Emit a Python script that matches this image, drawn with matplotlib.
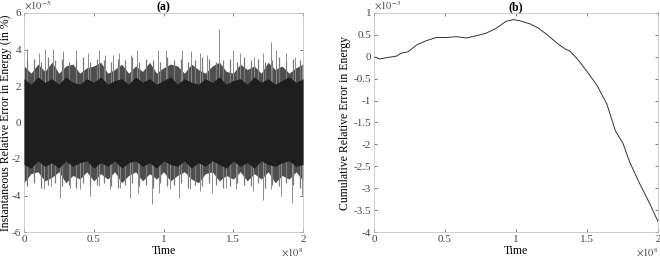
import numpy as np
import matplotlib
matplotlib.use("Agg")
import matplotlib.pyplot as plt

plt.rcParams['font.family'] = ['Liberation Serif', 'DejaVu Serif']
plt.rcParams['mathtext.fontset'] = 'stix'
plt.rcParams['axes.unicode_minus'] = False

# ---- panel (a): instantaneous error, values in units of 1e-5, time in 1e8 ----
# envelope of the dense band, sampled every 0.05e8
band_t = [0.00, 0.05, 0.10, 0.15, 0.20, 0.25, 0.30, 0.35, 0.40, 0.45,
          0.50, 0.55, 0.60, 0.65, 0.70, 0.75, 0.80, 0.85, 0.90, 0.95,
          1.00, 1.05, 1.10, 1.15, 1.20, 1.25, 1.30, 1.35, 1.40, 1.45,
          1.50, 1.55, 1.60, 1.65, 1.70, 1.75, 1.80, 1.85, 1.90, 1.95, 2.00]
core_hi = [2.4, 2.1, 2.5, 2.2, 2.4, 2.1, 2.5, 2.2, 2.1, 2.4,
           2.2, 2.5, 2.1, 2.3, 2.4, 2.1, 2.5, 2.2, 2.4, 2.1,
           2.3, 2.5, 2.1, 2.4, 2.2, 2.1, 2.4, 2.2, 2.5, 2.1,
           2.3, 2.4, 2.1, 2.5, 2.2, 2.4, 2.1, 2.3, 2.5, 2.2, 2.4]
core_lo = [-2.3, -2.5, -2.1, -2.4, -2.2, -2.5, -2.1, -2.4, -2.2, -2.1,
           -2.5, -2.2, -2.4, -2.1, -2.5, -2.2, -2.1, -2.4, -2.2, -2.5,
           -2.1, -2.3, -2.4, -2.1, -2.5, -2.2, -2.4, -2.1, -2.3, -2.5,
           -2.1, -2.4, -2.2, -2.5, -2.1, -2.3, -2.4, -2.2, -2.1, -2.4, -2.3]
fringe_hi = [3.1, 2.7, 3.2, 2.8, 3.3, 2.7, 3.1, 3.2, 2.7, 3.0,
             3.1, 3.3, 2.7, 2.9, 3.2, 2.7, 3.1, 2.8, 3.3, 2.7,
             3.0, 3.2, 3.1, 2.7, 3.2, 2.9, 2.7, 3.1, 3.3, 2.8,
             2.7, 3.2, 2.9, 3.1, 2.7, 3.3, 2.9, 3.1, 2.7, 3.0, 3.2]
fringe_lo = [-3.3, -2.8, -2.7, -3.2, -3.0, -2.7, -3.3, -2.9, -3.1, -2.7,
             -3.2, -2.8, -3.1, -2.7, -3.3, -2.9, -2.7, -3.2, -2.8, -3.1,
             -2.7, -3.2, -2.9, -2.7, -3.1, -3.3, -2.8, -2.7, -3.2, -2.9,
             -3.1, -2.7, -3.2, -2.8, -3.1, -2.7, -3.3, -2.9, -3.1, -2.7, -3.2]
# medium spikes sticking out of the fringe, between the envelope samples
mid_t = [0.025, 0.075, 0.125, 0.175, 0.225, 0.275, 0.325, 0.375, 0.425, 0.475,
         0.525, 0.575, 0.625, 0.675, 0.725, 0.775, 0.825, 0.875, 0.925, 0.975,
         1.025, 1.075, 1.125, 1.175, 1.225, 1.275, 1.325, 1.375, 1.425, 1.475,
         1.525, 1.575, 1.625, 1.675, 1.725, 1.775, 1.825, 1.875, 1.925, 1.975]
mid_up = [3.4, 3.5, 3.3, 3.6, 3.4, 3.5, 3.3, 3.4, 3.6, 3.3,
          3.5, 3.4, 3.3, 3.5, 3.4, 3.6, 3.3, 3.5, 3.4, 3.3,
          3.6, 3.4, 3.5, 3.3, 3.4, 3.6, 3.5, 3.3, 3.4, 3.5,
          3.3, 3.6, 3.4, 3.5, 3.3, 3.4, 3.6, 3.3, 3.5, 3.4]
mid_dn = [-3.5, -3.3, -3.6, -3.4, -3.3, -3.5, -3.4, -3.6, -3.3, -3.5,
          -3.4, -3.3, -3.5, -3.6, -3.4, -3.3, -3.5, -3.4, -3.6, -3.3,
          -3.5, -3.4, -3.3, -3.6, -3.4, -3.5, -3.3, -3.4, -3.6, -3.5,
          -3.3, -3.4, -3.5, -3.3, -3.6, -3.4, -3.5, -3.3, -3.4, -3.6]
# isolated tall spikes
spike_up_t = [0.02, 0.11, 0.15, 0.21, 0.28, 0.37, 0.46, 0.54, 0.58, 0.64,
              0.68, 0.77, 0.81, 0.96, 1.02, 1.13, 1.20, 1.26, 1.31, 1.40,
              1.50, 1.55, 1.65, 1.71, 1.77, 1.81, 1.88, 1.94, 1.99]
spike_up_v = [4.05, 3.8, 4.05, 4.05, 3.9, 3.95, 3.8, 3.95, 3.7, 3.7,
              3.8, 3.7, 3.95, 3.95, 3.95, 4.0, 3.9, 3.8, 3.7, 5.15,
              3.95, 3.8, 3.6, 3.8, 4.4, 4.0, 3.8, 3.6, 3.2]
spike_dn_t = [0.14, 0.19, 0.26, 0.33, 0.40, 0.47, 0.54, 0.62, 0.69, 0.76,
              0.82, 0.92, 0.97, 1.05, 1.11, 1.19, 1.26, 1.35, 1.45, 1.52,
              1.64, 1.71, 1.77, 1.84, 1.92, 1.99]
spike_dn_v = [-3.67, -3.48, -4.13, -3.57, -3.67, -4.04, -3.48, -3.67, -3.57, -4.13,
              -3.85, -4.45, -3.85, -3.67, -4.13, -3.67, -3.76, -3.85, -3.57, -3.67,
              -3.76, -4.22, -3.67, -4.04, -4.41, -3.95]

# ---- panel (b): cumulative error, values in units of 1e-3, time in 1e8 ----
cum_t = [0.00, 0.04, 0.087, 0.158, 0.19, 0.24, 0.30, 0.37, 0.44, 0.51,
         0.58, 0.65, 0.72, 0.79, 0.86, 0.93, 0.98, 1.03, 1.10, 1.16,
         1.22, 1.29, 1.35, 1.38, 1.44, 1.51, 1.57, 1.64, 1.70, 1.754,
         1.80, 1.87, 1.94, 2.00]
cum_e = [0.0, -0.05, -0.02, 0.015, 0.08, 0.115, 0.27, 0.37, 0.44, 0.44,
         0.46, 0.43, 0.48, 0.54, 0.65, 0.81, 0.85, 0.82, 0.75, 0.65,
         0.5, 0.31, 0.17, 0.13, -0.08, -0.38, -0.65, -1.08, -1.69, -1.98,
         -2.4, -2.89, -3.34, -3.76]

fig = plt.figure(figsize=(6.6, 2.6), dpi=100)
ax1 = fig.add_axes([24 / 660, 28 / 260, 279 / 660, 219 / 260])
ax2 = fig.add_axes([374 / 660, 28 / 260, 284 / 660, 219 / 260])

# fringe at the back, spikes over it, solid core on top
ax1.fill_between(band_t, fringe_lo, fringe_hi, color='#4e4e4e', lw=0, zorder=1)
ax1.vlines(spike_up_t, 0, spike_up_v, color='#8c8c8c', lw=0.7, zorder=2)
ax1.vlines(spike_dn_t, 0, spike_dn_v, color='#8c8c8c', lw=0.7, zorder=2)
ax1.vlines(mid_t, 0, mid_up, color='#7a7a7a', lw=0.9, zorder=2)
ax1.vlines(mid_t, 0, mid_dn, color='#7a7a7a', lw=0.9, zorder=2)
ax1.fill_between(band_t, core_lo, core_hi, color='#1e1e1e', lw=0, zorder=3)
ax1.set_xlim(0, 2)
ax1.set_ylim(-6, 6)
ax1.set_xticks([0, 0.5, 1, 1.5, 2])
ax1.set_xticklabels(['0', '0.5', '1', '1.5', '2'])
ax1.set_yticks([-6, -4, -2, 0, 2, 4, 6])
ax1.set_yticklabels(['-6', '-4', '-2', '0', '2', '4', '6'])
ax1.set_xlabel('Time', fontsize=8.5, labelpad=1)
ax1.set_ylabel('Instantaneous Relative Error in Energy (in %)', fontsize=8.5, labelpad=0)
ax1.set_title('(a)', fontsize=8.5, fontweight='bold', pad=2)
ax1.text(0.0, 1.005, r'$\times10^{-5}$', transform=ax1.transAxes, fontsize=7.5,
         ha='left', va='bottom', color='#444444')
ax1.text(1.0, -0.065, r'$\times10^{8}$', transform=ax1.transAxes, fontsize=7.5,
         ha='right', va='top', color='#444444')

ax2.plot(cum_t, cum_e, color='#333333', lw=0.7)
ax2.set_xlim(0, 2)
ax2.set_ylim(-4, 1)
ax2.set_xticks([0, 0.5, 1, 1.5, 2])
ax2.set_xticklabels(['0', '0.5', '1', '1.5', '2'])
yt = [-4, -3.5, -3, -2.5, -2, -1.5, -1, -0.5, 0, 0.5, 1]
ax2.set_yticks(yt)
ax2.set_yticklabels(['-4', '-3.5', '-3', '-2.5', '-2', '-1.5', '-1', '-0.5', '0', '0.5', '1'])
ax2.set_xlabel('Time', fontsize=8.5, labelpad=1)
ax2.set_ylabel('Cumulative Relative Error in Energy', fontsize=8.5, labelpad=2)
ax2.set_title('(b)', fontsize=8.5, fontweight='bold', pad=2)
ax2.text(0.0, 1.005, r'$\times10^{-3}$', transform=ax2.transAxes, fontsize=7.5,
         ha='left', va='bottom', color='#444444')
ax2.text(1.0, -0.065, r'$\times10^{8}$', transform=ax2.transAxes, fontsize=7.5,
         ha='right', va='top', color='#444444')

for ax in (ax1, ax2):
    ax.tick_params(direction='in', length=2.5, width=0.5, labelsize=8,
                   top=True, right=True, colors='#444444', pad=2)
    for s in ax.spines.values():
        s.set_linewidth(0.5)
        s.set_color('#bbbbbb')

fig.savefig('out.png', dpi=100)
